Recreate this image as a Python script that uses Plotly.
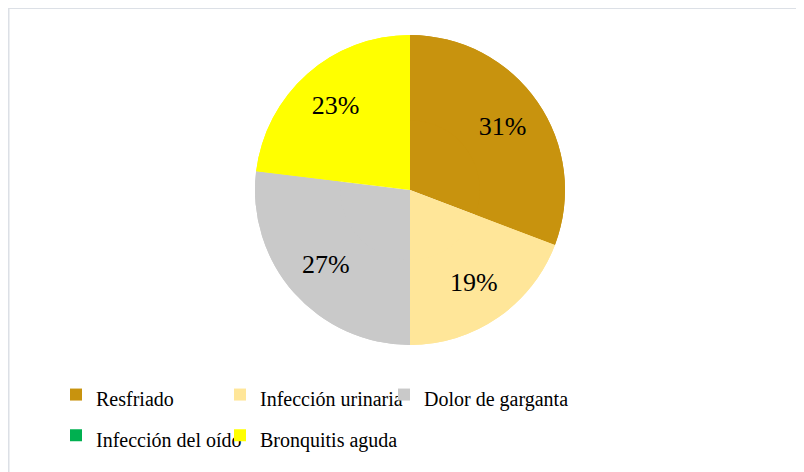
import plotly.graph_objects as go

categories = ["Resfriado", "Infección urinaria", "Dolor de garganta", "Infección del oído", "Bronquitis aguda"]
values = [8, 5, 7, 0, 6]
colors = ["#C8930E", "#FFE699", "#C9C9C9", "#00B050", "#FFFF00"]

templates = ["%{percent:.0%}" if v > 0 else "" for v in values]
legend_labels = [f"<span style='font-size:20px'>{c}</span>" for c in categories]

W, H = 804, 472
OFF = 8  # page body margin
ML, MR = 0, 184
PW = W - ML - MR
cx, cy, R = 410 - OFF, 190 - OFF, 155
dom = dict(x=[(cx - R - ML) / PW, (cx + R - ML) / PW], y=[(H - cy - R) / H, (H - cy + R) / H])

common = dict(
    labels=legend_labels,
    values=values,
    sort=False,
    direction="clockwise",
    rotation=0,
    marker=dict(colors=colors, line=dict(color="white", width=0)),
    domain=dom,
    hoverinfo="label+percent",
)

# full pie underneath (fills centre), ring on top carries the percentage labels
fig = go.Figure()
fig.add_trace(go.Pie(**common, textinfo="none", showlegend=False))
fig.add_trace(go.Pie(
    **common,
    hole=0.45,
    texttemplate=templates,
    textposition="inside",
    insidetextorientation="horizontal",
    textfont=dict(family="Liberation Serif", size=26, color="black"),
    showlegend=True,
))

fig.update_layout(
    width=W, height=H,
    margin=dict(l=ML, r=MR, t=0, b=0),
    paper_bgcolor="white",
    plot_bgcolor="white",
    font=dict(family="Liberation Serif", size=20, color="black"),
    legend=dict(
        orientation="h",
        x=48 / PW, xanchor="left",
        y=1 - (364 - OFF) / H, yanchor="top",
        bgcolor="rgba(0,0,0,0)",
        font=dict(family="Liberation Serif", size=29, color="black"),
        title=dict(text="\u2003" * 135, side="top", font=dict(size=4, color="rgba(0,0,0,0)")),
        itemwidth=30,
        entrywidth=119,
        entrywidthmode="pixels",
        traceorder="normal",
    ),
    shapes=[
        dict(type="line", xref="paper", yref="paper", x0=0, x1=1.5, y0=1, y1=1,
             line=dict(color="#DCE0E6", width=2)),
        dict(type="line", xref="paper", yref="paper", x0=0.5 / PW, x1=0.5 / PW, y0=-0.02, y1=1,
             line=dict(color="#DCE0E6", width=2)),
    ],
)

fig.write_html("out.html")
